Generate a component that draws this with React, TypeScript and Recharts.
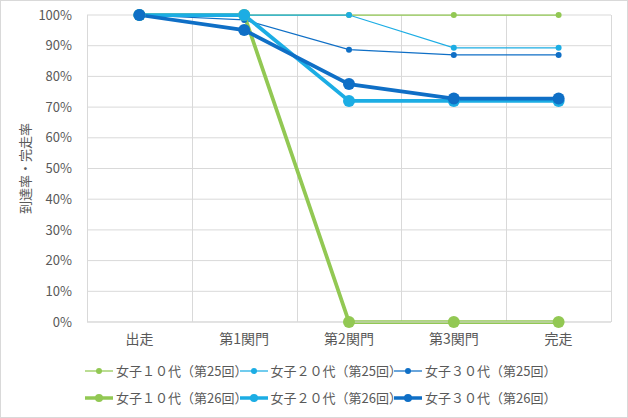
import React from "react";
import { LineChart, Line, XAxis, YAxis, CartesianGrid } from "recharts";

const categories = ["出走", "第1関門", "第2関門", "第3関門", "完走"];
const yTicks = [0, 10, 20, 30, 40, 50, 60, 70, 80, 90, 100];

const women10_25 = [100, 100, 100, 100, 100];
const women20_25 = [100, 100, 100, 89.3, 89.3];
const women30_25 = [100, 98.4, 88.7, 87.0, 87.0];
const women10_26 = [100, 100, 0, 0, 0];
const women20_26 = [100, 100, 72.0, 72.0, 72.0];
const women30_26 = [100, 95.1, 77.5, 72.8, 72.8];

const GREEN = "#92C853";
const SKY = "#1CADE4";
const NAVY = "#0F6FC6";
const FONT = '"Noto Sans CJK JP", "Noto Sans", sans-serif';

// plot area
const W = 628;
const H = 418;
const PLOT_LEFT = 87;
const PLOT_RIGHT = 17;
const PLOT_W = W - PLOT_LEFT - PLOT_RIGHT;
const BAND = PLOT_W / categories.length;

const series = [
  { key: "w10_25", name: "女子１０代（第25回）", values: women10_25, color: GREEN, thick: false },
  { key: "w20_25", name: "女子２０代（第25回）", values: women20_25, color: SKY, thick: false },
  { key: "w30_25", name: "女子３０代（第25回）", values: women30_25, color: NAVY, thick: false },
  { key: "w10_26", name: "女子１０代（第26回）", values: women10_26, color: GREEN, thick: true },
  { key: "w20_26", name: "女子２０代（第26回）", values: women20_26, color: SKY, thick: true },
  { key: "w30_26", name: "女子３０代（第26回）", values: women30_26, color: NAVY, thick: true },
];

const data = categories.map((c, i) => {
  const row: Record<string, string | number> = { name: c };
  series.forEach((s) => {
    row[s.key] = s.values[i];
  });
  return row;
});

// grid lines sit on the category boundaries, like Excel
const verticalLines = [0, 1, 2, 3, 4, 5].map((i) => Math.round(PLOT_LEFT + i * BAND) + 0.5);

function LegendIcon({ color, thick }: { color: string; thick: boolean }) {
  return (
    <svg width={28} height={14} style={{ marginRight: 3, flex: "none" }}>
      <line x1={0} y1={7} x2={28} y2={7} stroke={color} strokeWidth={thick ? 3.5 : 1.25} />
      <circle cx={14} cy={7} r={thick ? 4 : 3} fill={color} />
    </svg>
  );
}

export default function App() {
  return (
    <div
      style={{
        position: "absolute",
        left: 0,
        top: 0,
        width: W,
        height: H,
        background: "#fff",
        fontFamily: FONT,
      }}
    >
      <LineChart
        width={W}
        height={H}
        data={data}
        margin={{ top: 15, right: PLOT_RIGHT, bottom: 66, left: 0 }}
      >
        <CartesianGrid stroke="#D9D9D9" verticalPoints={verticalLines} />
        <XAxis
          dataKey="name"
          height={30}
          padding={{ left: BAND / 2, right: BAND / 2 }}
          axisLine={{ stroke: "#D9D9D9" }}
          tickLine={false}
          tickSize={0}
          tickMargin={12}
          tick={{ fill: "#595959", fontSize: 14, fontFamily: FONT }}
          interval={0}
        />
        <YAxis
          width={PLOT_LEFT}
          domain={[0, 100]}
          ticks={yTicks}
          tickFormatter={(v: number) => `${v}%`}
          axisLine={false}
          tickLine={false}
          tickSize={0}
          tickMargin={15}
          tick={{ fill: "#595959", fontSize: 13, fontFamily: FONT }}
          label={{
            value: "到達率・完走率",
            angle: -90,
            position: "insideLeft",
            offset: 25,
            style: { textAnchor: "middle", fill: "#595959", fontSize: 13, fontFamily: FONT },
          }}
        />
        {series.map((s) => (
          <Line
            key={s.key}
            dataKey={s.key}
            name={s.name}
            stroke={s.color}
            strokeWidth={s.thick ? 3.75 : 1.25}
            dot={{ r: s.thick ? 6 : 3, fill: s.color, stroke: "none" }}
            activeDot={false}
            isAnimationActive={false}
          />
        ))}
      </LineChart>
      {[0, 1].map((row) => (
        <div
          key={row}
          style={{
            position: "absolute",
            left: 85,
            top: 362 + row * 27,
            display: "flex",
            fontSize: 13,
            color: "#595959",
            lineHeight: "18px",
          }}
        >
          {series.slice(row * 3, row * 3 + 3).map((s) => (
            <div key={s.key} style={{ display: "flex", alignItems: "center", width: 154.5 }}>
              <LegendIcon color={s.color} thick={s.thick} />
              <span style={{ whiteSpace: "nowrap" }}>{s.name}</span>
            </div>
          ))}
        </div>
      ))}
      <div
        style={{
          position: "absolute",
          inset: 0,
          border: "1px solid #D9D9D9",
          pointerEvents: "none",
        }}
      />
    </div>
  );
}
